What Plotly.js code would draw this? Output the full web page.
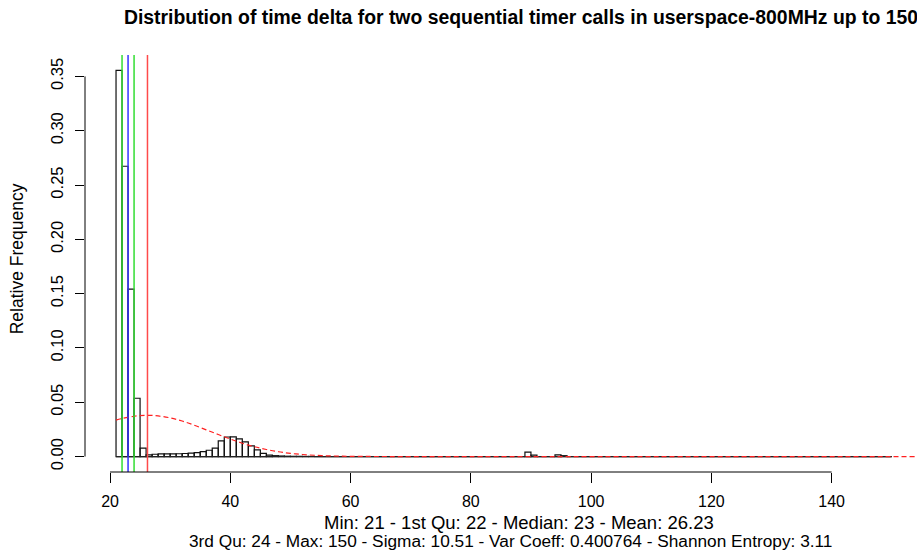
<!DOCTYPE html>
<html><head><meta charset="utf-8">
<script src="https://cdn.plot.ly/plotly-3.0.1.min.js"></script>
<style>html,body{margin:0;padding:0;background:#fff}#chart{width:917px;height:555px}</style>
</head><body><div id="chart"></div>
<script>
const chartTitle = "Distribution of time delta for two sequential timer calls in userspace-800MHz up to 150";
const yLabel = "Relative Frequency";
const summaryLine1 = "Min: 21 - 1st Qu: 22 - Median: 23 - Mean: 26.23";
const summaryLine2 = "3rd Qu: 24 - Max: 150 - Sigma: 10.51 - Var Coeff: 0.400764 - Shannon Entropy: 3.11";

// histogram breaks: unit-width bins from 21 to 150
const breakMin = 21;
const breakMax = 150;
// relative frequency of each bin (bins 21-22, 22-23, ..., 149-150)
const relFreq = [
  0.3555,0.2673,0.1542,0.0537,0.0077,0.0015,0.0021,0.0025,0.0025,0.0025, // 21-30
  0.0026,0.0028,0.0031,0.0037,0.0046,0.0058,0.0077,0.0145,0.0180,0.0182, // 31-40
  0.0162,0.0135,0.0098,0.0062,0.0030,0.0014,0.0008,0.0005,0.0003,0.0002, // 41-50
  0.0002,0.0001,0.0001,0,0,0,0,0,0,0,                                   // 51-60
  0,0,0,0,0,0,0,0,0,0,                                                  // 61-70
  0,0,0,0,0,0,0,0,0,0,                                                  // 71-80
  0,0,0,0,0,0,0,0,0.0040,0.0013,                                        // 81-90
  0,0,0,0.0016,0.0008,0,0,0,0,0,                                        // 91-100
  0,0,0,0,0,0,0,0,0,0,                                                  // 101-110
  0,0,0,0,0,0,0,0,0,0,                                                  // 111-120
  0,0,0,0,0,0,0,0,0,0,                                                  // 121-130
  0,0,0,0,0,0,0,0,0,0,                                                  // 131-140
  0,0,0,0,0,0,0,0,0                                                     // 141-149
];

// fitted normal density (dashed red)
const normX = [21,22,24,26,28,30,32,34,36,38,40,42,44,46,48,50,52,54,56,58,60,65,70,80,155];
const normY = [0.0335,0.0350,0.0371,0.0380,0.0374,0.0356,0.0327,0.0289,0.0246,0.0203,0.0161,0.0123,0.0091,0.0065,0.0044,0.0029,0.0019,0.0012,0.0007,0.0004,0.0002,0.00004,0.00001,0,0];

// summary statistic vertical lines
const statNames = ["1st Qu", "Median", "3rd Qu", "Mean"];
const statValues = [22, 23, 24, 26.23];
const statColors = ["#33dd33", "#3333ff", "#33dd33", "#ff4a4a"];

const xTicks = [20,40,60,80,100,120,140];
const yTicks = [0,0.05,0.10,0.15,0.20,0.25,0.30,0.35];

const FONT = "Liberation Sans, Arial, Helvetica, sans-serif";

const binCenters = relFreq.map((_, i) => breakMin + i + 0.5);
const yMax = Math.max(...relFreq);
const xSpan = breakMax - breakMin;

const traces = [
  {
    type: "bar", x: binCenters, y: relFreq, width: 1,
    marker: {color: "rgba(0,0,0,0)", line: {color: "#111", width: 1.2}},
    hoverinfo: "x+y", showlegend: false
  },
  {
    type: "scatter", mode: "lines", x: [breakMin, breakMax], y: [0, 0],
    line: {color: "#222", width: 1.2}, showlegend: false, hoverinfo: "skip"
  },
  {
    type: "scatter", mode: "lines", x: normX, y: normY,
    line: {color: "#ff2020", width: 1.2, dash: "5px,3px", shape: "spline"},
    showlegend: false
  }
];

const shapes = statValues.map((v, i) => ({
  type: "line", xref: "x", yref: "paper", x0: v, x1: v, y0: 0, y1: 1,
  line: {color: statColors[i], width: 1.5}
}));
// R-style axis lines spanning only the tick range
shapes.push({type: "line", xref: "x", yref: "paper", x0: xTicks[0], x1: xTicks[xTicks.length-1], y0: 0, y1: 0, line: {color: "#000", width: 1}});
shapes.push({type: "line", xref: "paper", yref: "y", x0: 0, x1: 0, y0: yTicks[0], y1: yTicks[yTicks.length-1], line: {color: "#000", width: 1}});

const layout = {
  width: 917, height: 555,
  margin: {l: 85, r: 0, t: 55, b: 83},
  paper_bgcolor: "#fff", plot_bgcolor: "#fff",
  font: {family: FONT, size: 16, color: "#000"},
  bargap: 0,
  title: {
    text: "<b>" + chartTitle + "</b>",
    font: {family: FONT, size: 19.4, color: "#000"},
    x: 0.524, xref: "paper", xanchor: "center",
    y: 1 - 17/555, yref: "container", yanchor: "middle"
  },
  xaxis: {
    range: [breakMin - 0.04*xSpan, 154.2],
    tickvals: xTicks, ticktext: xTicks.map(String),
    ticks: "outside", ticklen: 10, tickwidth: 1, tickcolor: "#000",
    showgrid: false, zeroline: false, showline: false,
    tickfont: {family: FONT, size: 16, color: "#000"},
    ticklabelstandoff: 5
  },
  yaxis: {
    range: [-0.04*yMax, 1.04*yMax],
    tickvals: yTicks, ticktext: yTicks.map(v => v.toFixed(2)),
    tickangle: -90,
    ticks: "outside", ticklen: 9, tickwidth: 1, tickcolor: "#000",
    showgrid: false, zeroline: false, showline: false,
    tickfont: {family: FONT, size: 16.5, color: "#000"},
    ticklabelstandoff: 5
  },
  shapes: shapes,
  annotations: [
    {text: yLabel, xref: "paper", yref: "paper", x: (17-85)/832, y: 0.51,
     textangle: -90, showarrow: false, xanchor: "center", yanchor: "middle",
     font: {family: FONT, size: 17.5, color: "#000"}},
    {text: summaryLine1, xref: "paper", yref: "paper", x: 0.522, y: 1 - (522-55)/417,
     showarrow: false, xanchor: "center", yanchor: "middle",
     font: {family: FONT, size: 18.5, color: "#000"}},
    {text: summaryLine2, xref: "paper", yref: "paper", x: 0.511, y: 1 - (541-55)/417,
     showarrow: false, xanchor: "center", yanchor: "middle",
     font: {family: FONT, size: 17.25, color: "#000"}}
  ]
};

Plotly.newPlot("chart", traces, layout, {displayModeBar: false, staticPlot: true});
</script>
</body></html>
